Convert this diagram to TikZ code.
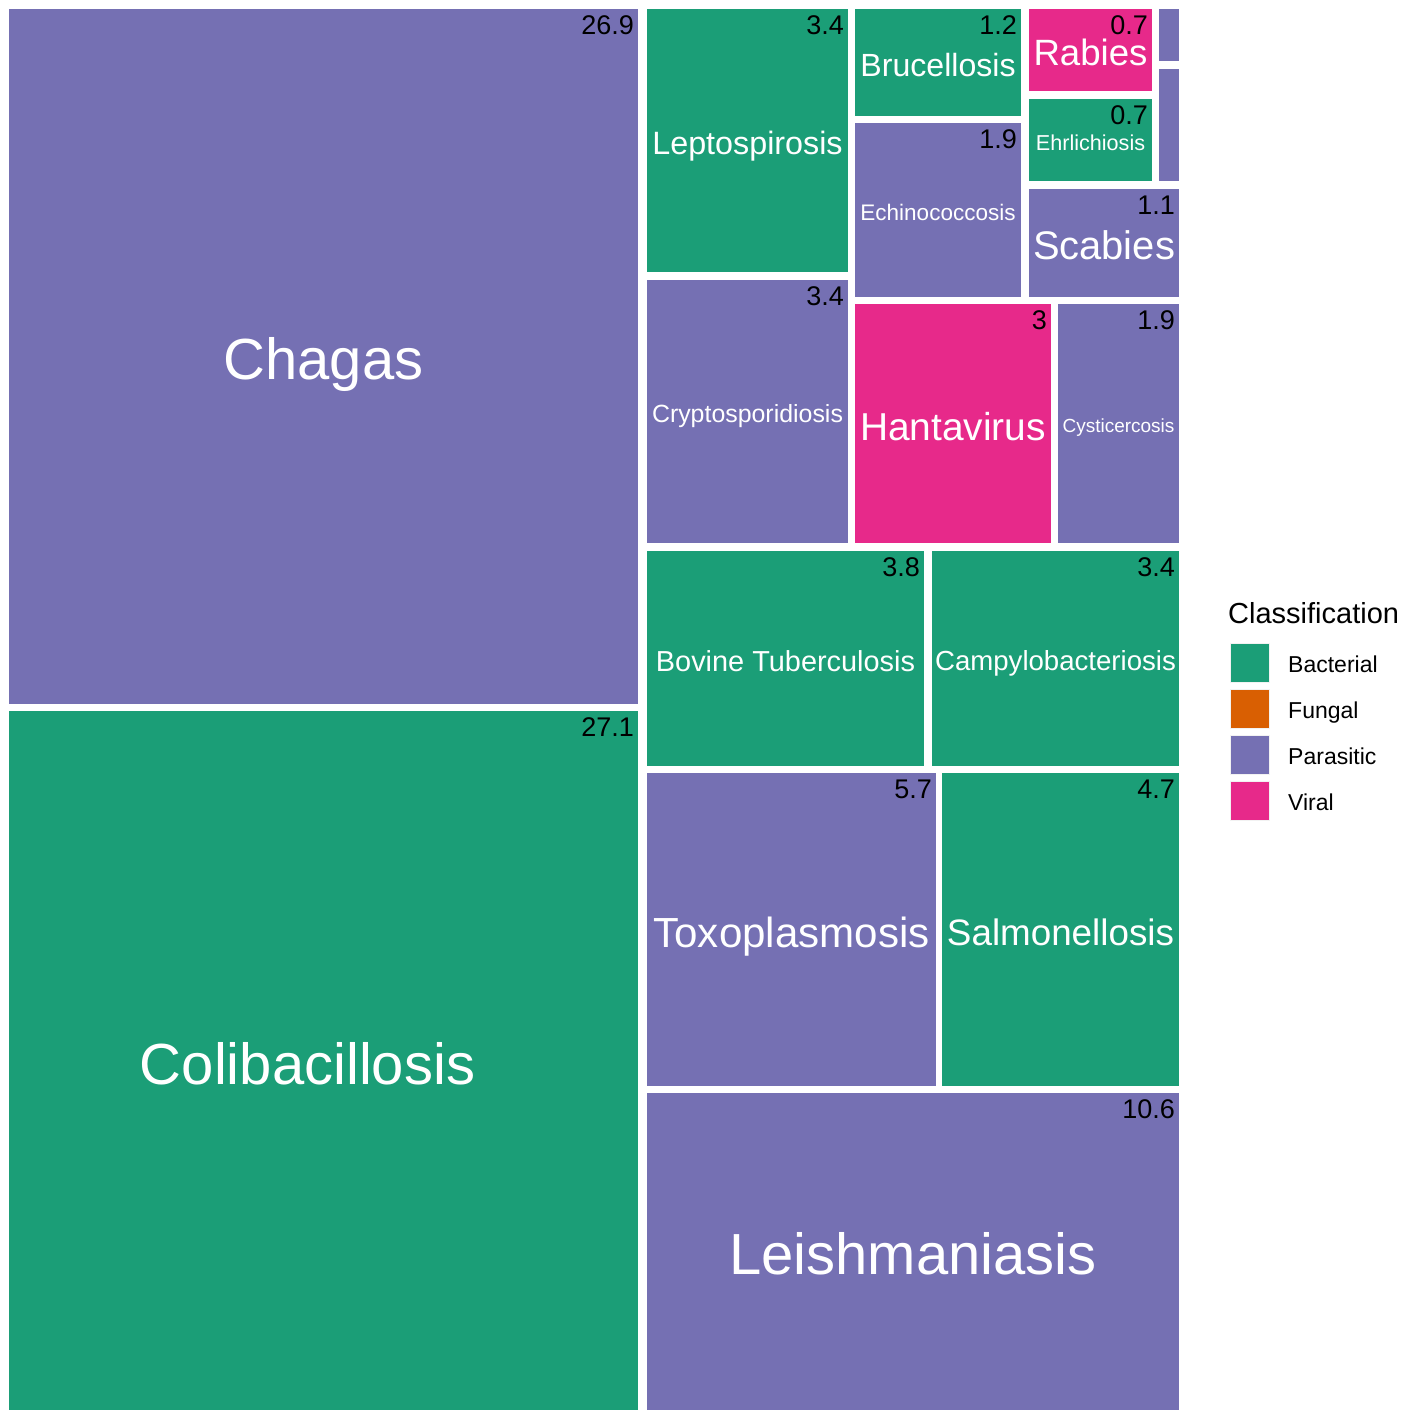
\documentclass[tikz,border=0pt]{standalone}
\usepackage{fontspec}
\setmainfont{Liberation Sans}
\definecolor{bact}{HTML}{1B9E77}
\definecolor{fung}{HTML}{D95F02}
\definecolor{para}{HTML}{7570B3}
\definecolor{vira}{HTML}{E7298A}
\definecolor{keyedge}{HTML}{F2F2F2}
\tikzset{
  box/.style={inner sep=0pt, outer sep=0pt, draw=none},
  lab/.style={text=white, inner sep=0pt, outer sep=0pt, anchor=base},
  val/.style={anchor=north east, inner sep=0pt, outer sep=0pt, text=black, font=\fontsize{27}{27}\selectfont},
  legkey/.style={inner sep=0pt, outer sep=0pt, minimum width=39pt, minimum height=39pt, draw=keyedge, line width=1.2pt, anchor=north west},
  legtext/.style={anchor=base west, inner sep=0pt, text=black, font=\fontsize{23}{23}\selectfont},
}
% name, x1, y1, x2, y2, colour
\newcommand\tile[6]{%
  \node[box, fill=#6, minimum width={(#4-#2)*1pt}, minimum height={(#5-#3)*1pt}, anchor=north west] (#1) at (#2,#3) {};}
% name, value
\newcommand\tval[2]{%
  \node[val] (#1-v) at ([xshift=-4pt,yshift=-7pt]#1.north east) {#2};}
% name, size, text  (baseline placed so that cap height is centred, plus a small drop)
\newcommand\tlab[3]{%
  \node[lab, font=\fontsize{#2}{#2}\selectfont] (#1-l) at ([yshift={-(0.36*#2+2.5)*1pt}]#1.center) {#3};}
\begin{document}
\begin{tikzpicture}[x=1pt,y=-1pt]
\useasboundingbox[fill=white] (0,0) rectangle (1419,1410);
% tiles
\tile{chagas}{9}{9}{638}{704}{para}
\tile{coli}{9}{711}{638}{1410}{bact}
\tile{lepto}{647}{9}{848}{272}{bact}
\tile{crypto}{647}{280}{848}{543}{para}
\tile{bruc}{855}{9}{1021}{116}{bact}
\tile{echino}{855}{123}{1021}{297}{para}
\tile{rabies}{1029}{9}{1152}{91}{vira}
\tile{pa}{1159}{9}{1179}{61}{para}
\tile{ehrl}{1029}{99}{1152}{181}{bact}
\tile{pb}{1159}{69}{1179}{181}{para}
\tile{scab}{1029}{189}{1179}{297}{para}
\tile{hanta}{855}{304}{1051}{543}{vira}
\tile{cysti}{1058}{304}{1179}{543}{para}
\tile{bovine}{647}{551}{924}{766}{bact}
\tile{campy}{932}{551}{1179}{766}{bact}
\tile{toxo}{647}{773}{936}{1086}{para}
\tile{salmo}{942}{773}{1179}{1086}{bact}
\tile{leish}{647}{1093}{1179}{1410}{para}
% labels
\tlab{chagas}{58}{Chagas}
\node[lab, font=\fontsize{58}{58}\selectfont] (coli-l) at ([xshift=-16pt,yshift={-(0.36*58+3)*1pt}]coli.center) {Colibacillosis};
\tlab{lepto}{32.3}{Leptospirosis}
\tlab{crypto}{24.9}{Cryptosporidiosis}
\tlab{bruc}{32.1}{Brucellosis}
\tlab{echino}{22.5}{Echinococcosis}
\tlab{rabies}{36.6}{Rabies}
\tlab{ehrl}{21.6}{Ehrlichiosis}
\tlab{scab}{39.9}{Scabies}
\tlab{hanta}{38.9}{Hantavirus}
\tlab{cysti}{19.0}{Cysticercosis}
\tlab{bovine}{28.9}{Bovine Tuberculosis}
\tlab{campy}{27.6}{Campylobacteriosis}
\tlab{toxo}{42.1}{Toxoplasmosis}
\tlab{salmo}{36.8}{Salmonellosis}
\tlab{leish}{58}{Leishmaniasis}
% values
\tval{chagas}{26.9}
\tval{coli}{27.1}
\tval{lepto}{3.4}
\tval{crypto}{3.4}
\tval{bruc}{1.2}
\tval{echino}{1.9}
\tval{rabies}{0.7}
\tval{ehrl}{0.7}
\tval{scab}{1.1}
\tval{hanta}{3}
\tval{cysti}{1.9}
\tval{bovine}{3.8}
\tval{campy}{3.4}
\tval{toxo}{5.7}
\tval{salmo}{4.7}
\tval{leish}{10.6}
% legend
\node[anchor=base west, inner sep=0pt, font=\fontsize{29}{29}\selectfont] (legtitle) at (1228,623.5) {Classification};
\node[legkey, fill=bact] (k1) at (1230.5,643.5) {};
\node[legkey, fill=fung] (k2) at (1230.5,689.5) {};
\node[legkey, fill=para] (k3) at (1230.5,735.5) {};
\node[legkey, fill=vira] (k4) at (1230.5,781.5) {};
\node[legtext] (t1) at (1288,672) {Bacterial};
\node[legtext] (t2) at (1288,718) {Fungal};
\node[legtext] (t3) at (1288,764) {Parasitic};
\node[legtext] (t4) at (1288,810) {Viral};
\end{tikzpicture}
\end{document}
